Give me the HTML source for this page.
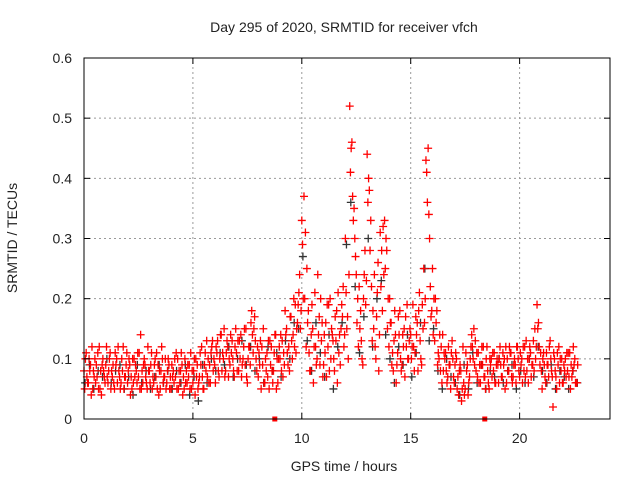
<!DOCTYPE html>
<html><head><meta charset="utf-8"><style>
body{margin:0;background:#fff}
svg text{font-family:"Liberation Sans",sans-serif;font-size:14px;fill:#222}
</style></head><body>
<svg id="chart" width="640" height="480" xmlns="http://www.w3.org/2000/svg">
<rect width="640" height="480" fill="#fff"/>
<g id="grid"></g>
<g id="pts"></g>
<rect x="84" y="58" width="526" height="361" fill="none" stroke="#000" stroke-width="1"/>
<g id="ticks"></g>
<text x="344" y="32" text-anchor="middle">Day 295 of 2020, SRMTID for receiver vfch</text>
<text x="344" y="471" text-anchor="middle">GPS time / hours</text>
<text transform="translate(17,238) rotate(-90)" text-anchor="middle">SRMTID / TECUs</text>
</svg>
<script>
const xTicks=[0,5,10,15,20];
const yTicks=[0,0.1,0.2,0.3,0.4,0.5,0.6];
const yTickLabels=["0","0.1","0.2","0.3","0.4","0.5","0.6"];
const markerHours=[8.76,18.4];
const redStep=0.1, blackStep=0.2;
const redA=[0.08,0.11,0.06,0.09,0.05,0.10,0.07,0.12,0.04,0.08,
0.09,0.06,0.11,0.07,0.05,0.10,0.08,0.06,0.12,0.07,
0.06,0.09,0.05,0.10,0.08,0.07,0.14,0.06,0.09,0.05,
0.08,0.11,0.06,0.07,0.09,0.05,0.10,0.07,0.06,0.09,
0.05,0.08,0.07,0.10,0.06,0.09,0.05,0.08,0.07,0.11,
0.06,0.04,0.09,0.07,0.12,0.05,0.08,0.10,0.06,0.13,
0.09,0.11,0.07,0.14,0.10,0.08,0.12,0.09,0.13,0.07,
0.11,0.08,0.14,0.10,0.09,0.06,0.12,0.18,0.15,0.10,
0.07,0.13,0.09,0.06,0.11,0.05,0.12,0.08,0.14,0.06,
0.10,0.13,0.09,0.15,0.12,0.17,0.14,0.19,0.16,0.24,
0.33,0.37,0.12,0.18,0.08,0.15,0.21,0.10,0.17,0.13,
0.09,0.16,0.12,0.20,0.14,0.08,0.18,0.11,0.15,0.22,
0.30,0.17,0.52,0.46,0.35,0.24,0.12,0.18,0.09,0.28,
0.44,0.38,0.22,0.15,0.10,0.26,0.31,0.18,0.33,0.28,
0.12,0.16,0.08,0.14,0.11,0.18,0.09,0.15,0.12,0.10,
0.14,0.19,0.11,0.16,0.21,0.09,0.25,0.43,0.45,0.22,
0.25,0.13,0.18,0.10,0.12,0.08,0.11,0.07,0.09,0.13,
0.06,0.10,0.04,0.08,0.12,0.05,0.09,0.07,0.14,0.15,
0.08,0.11,0.06,0.09,0.07,0.12,0.05,0.10,0.08,0.06,
0.09,0.12,0.07,0.10,0.06,0.08,0.11,0.07,0.09,0.12,
0.07,0.10,0.08,0.13,0.06,0.11,0.09,0.15,0.19,0.12,
0.08,0.11,0.06,0.09,0.13,0.07,0.10,0.05,0.12,0.08,
0.06,0.10,0.08,0.11,0.07,0.09,0.06];
const redB=[0.05,0.07,0.10,0.04,0.08,0.06,0.11,0.05,0.09,0.07,
0.12,0.08,0.05,0.09,0.11,0.06,0.07,0.10,0.05,0.09,
0.08,0.04,0.10,0.07,0.06,0.11,0.05,0.09,0.07,0.12,
0.06,0.05,0.09,0.11,0.04,0.08,0.06,0.10,0.08,0.05,
0.09,0.06,0.11,0.05,0.08,0.04,0.10,0.06,0.09,0.05,
0.08,0.10,0.05,0.11,0.07,0.09,0.13,0.06,0.11,0.08,
0.06,0.13,0.10,0.08,0.15,0.11,0.07,0.14,0.10,0.12,
0.08,0.13,0.07,0.12,0.15,0.10,0.09,0.14,0.17,0.08,
0.11,0.05,0.15,0.10,0.07,0.13,0.08,0.11,0.05,0.10,
0.14,0.07,0.18,0.11,0.08,0.13,0.20,0.11,0.19,0.15,
0.29,0.20,0.25,0.11,0.14,0.06,0.12,0.24,0.09,0.16,
0.14,0.07,0.19,0.10,0.13,0.17,0.06,0.14,0.19,0.12,
0.21,0.10,0.41,0.37,0.30,0.16,0.22,0.13,0.20,0.19,
0.36,0.28,0.13,0.24,0.17,0.08,0.22,0.32,0.25,0.15,
0.20,0.09,0.13,0.06,0.17,0.10,0.14,0.07,0.19,0.13,
0.10,0.12,0.17,0.08,0.13,0.19,0.16,0.41,0.34,0.17,
0.14,0.20,0.09,0.14,0.06,0.11,0.08,0.12,0.05,0.10,
0.09,0.05,0.08,0.03,0.06,0.11,0.04,0.10,0.12,0.09,
0.11,0.06,0.09,0.12,0.05,0.08,0.10,0.07,0.11,0.09,
0.06,0.09,0.11,0.05,0.10,0.12,0.07,0.09,0.06,0.10,
0.11,0.06,0.12,0.08,0.10,0.07,0.13,0.10,0.15,0.09,
0.05,0.09,0.11,0.07,0.10,0.02,0.08,0.11,0.06,0.10,
0.09,0.07,0.11,0.05,0.08,0.10,0.06];
const redC=[0.10,0.06,0.08,0.12,0.07,0.09,0.05,0.08,0.10,0.06,
0.07,0.10,0.08,0.06,0.09,0.12,0.05,0.08,0.07,0.11,
0.10,0.07,0.06,0.09,0.11,0.05,0.08,0.10,0.06,0.08,
0.09,0.07,0.10,0.05,0.08,0.12,0.07,0.05,0.10,0.07,
0.07,0.10,0.05,0.08,0.11,0.07,0.06,0.09,0.05,0.08,
0.10,0.07,0.06,0.09,0.05,0.11,0.07,0.09,0.12,0.10,
0.12,0.08,0.14,0.11,0.07,0.13,0.10,0.11,0.08,0.15,
0.13,0.10,0.09,0.15,0.07,0.12,0.16,0.11,0.13,0.12,
0.09,0.12,0.06,0.08,0.13,0.09,0.06,0.14,0.10,0.12,
0.08,0.11,0.14,0.09,0.17,0.10,0.12,0.15,0.21,0.18,
0.20,0.31,0.16,0.08,0.19,0.12,0.09,0.14,0.20,0.07,
0.11,0.19,0.08,0.15,0.10,0.13,0.21,0.09,0.17,0.14,
0.15,0.24,0.45,0.33,0.27,0.20,0.15,0.10,0.24,0.23,
0.40,0.33,0.18,0.12,0.21,0.14,0.28,0.24,0.30,0.20,
0.16,0.11,0.18,0.09,0.14,0.08,0.12,0.17,0.10,0.15,
0.12,0.08,0.14,0.18,0.10,0.15,0.20,0.36,0.30,0.18,
0.20,0.16,0.11,0.08,0.14,0.10,0.06,0.09,0.11,0.07,
0.11,0.07,0.09,0.05,0.04,0.08,0.06,0.12,0.10,0.13,
0.07,0.09,0.12,0.07,0.10,0.06,0.09,0.11,0.06,0.10,
0.10,0.07,0.09,0.12,0.08,0.11,0.06,0.10,0.12,0.08,
0.09,0.12,0.07,0.10,0.12,0.09,0.08,0.12,0.16,0.11,
0.10,0.07,0.09,0.12,0.08,0.11,0.07,0.09,0.10,0.06,
0.08,0.11,0.07,0.09,0.12,0.06,0.09];
const black=[0.06,0.09,0.05,0.08,0.07,0.10,0.06,0.08,0.09,0.05,
0.07,0.04,0.09,0.06,0.08,0.05,0.07,0.09,0.06,0.08,
0.05,0.08,0.06,0.09,0.04,0.07,0.03,0.09,0.06,0.10,
0.08,0.11,0.09,0.12,0.07,0.10,0.13,0.09,0.12,0.08,
0.10,0.06,0.12,0.08,0.11,0.07,0.13,0.10,0.16,0.15,
0.27,0.13,0.08,0.16,0.11,0.07,0.14,0.05,0.12,0.16,
0.29,0.36,0.22,0.11,0.17,0.30,0.12,0.20,0.23,0.14,
0.10,0.06,0.12,0.09,0.14,0.07,0.11,0.16,0.25,0.13,
0.15,0.08,0.05,0.10,0.07,0.06,0.04,0.09,0.05,0.11,
0.06,0.09,0.05,0.08,0.07,0.10,0.06,0.08,0.09,0.05,
0.08,0.06,0.10,0.07,0.12,0.08,0.06,0.09,0.05,0.08,
0.07,0.05,0.08,0.06];

const X0=84,X1=610,Y0=419,Y1=58,XMAX=24.15,YMAX=0.6;
const xs=h=>X0+h/XMAX*(X1-X0);
const ys=v=>Y0-v/YMAX*(Y0-Y1);
const NS="http://www.w3.org/2000/svg";
const grid=document.getElementById('grid'),ticks=document.getElementById('ticks'),pts=document.getElementById('pts');
function mk(tag,attrs,parent){const e=document.createElementNS(NS,tag);for(const k in attrs)e.setAttribute(k,attrs[k]);parent.appendChild(e);return e;}
yTicks.forEach((v,i)=>{
  const y=ys(v);
  if(i>0&&i<yTicks.length-1){const g=mk('line',{x1:X0,x2:X1,y1:y,y2:y,stroke:'#999','stroke-dasharray':'2,3'},grid);
  
  }
  mk('line',{x1:X0,x2:X0+6,y1:y,y2:y,stroke:'#000'},ticks);
  mk('line',{x1:X1,x2:X1-6,y1:y,y2:y,stroke:'#000'},ticks);
  const t=mk('text',{x:X0-12,y:y+5,'text-anchor':'end'},ticks);t.textContent=yTickLabels[i];
  
  
});
xTicks.forEach(h=>{
  const x=xs(h);
  if(h>0){const g=mk('line',{x1:x,x2:x,y1:Y0,y2:Y1,stroke:'#999','stroke-dasharray':'2,3'},grid);
  
  }
  mk('line',{x1:x,x2:x,y1:Y0,y2:Y0-6,stroke:'#000'},ticks);
  mk('line',{x1:x,x2:x,y1:Y1,y2:Y1+6,stroke:'#000'},ticks);
  const t=mk('text',{x:x,y:Y0+24,'text-anchor':'middle'},ticks);t.textContent=String(h);
  
  
});
function plus(h,v,col,name){
  const x=xs(h),y=ys(v);
  const p=mk('path',{d:`M${x-4},${y}h8M${x},${y-4}v8`,stroke:col,'stroke-width':1.3,fill:'none'},pts);
  
  
}
black.forEach((v,i)=>plus(i*blackStep+0.05,v,'#333','black-point'));
redA.forEach((v,i)=>plus(i*redStep,v,'#f00','red-point'));
redB.forEach((v,i)=>plus(i*redStep+0.033,v,'#f00','red-point'));
redC.forEach((v,i)=>plus(i*redStep+0.066,v,'#f00','red-point'));
markerHours.forEach(h=>{
  const r=mk('rect',{x:xs(h)-2.5,y:Y0-2.5,width:5,height:5,fill:'#f00'},pts);
  
  
});
</script>
</body></html>
